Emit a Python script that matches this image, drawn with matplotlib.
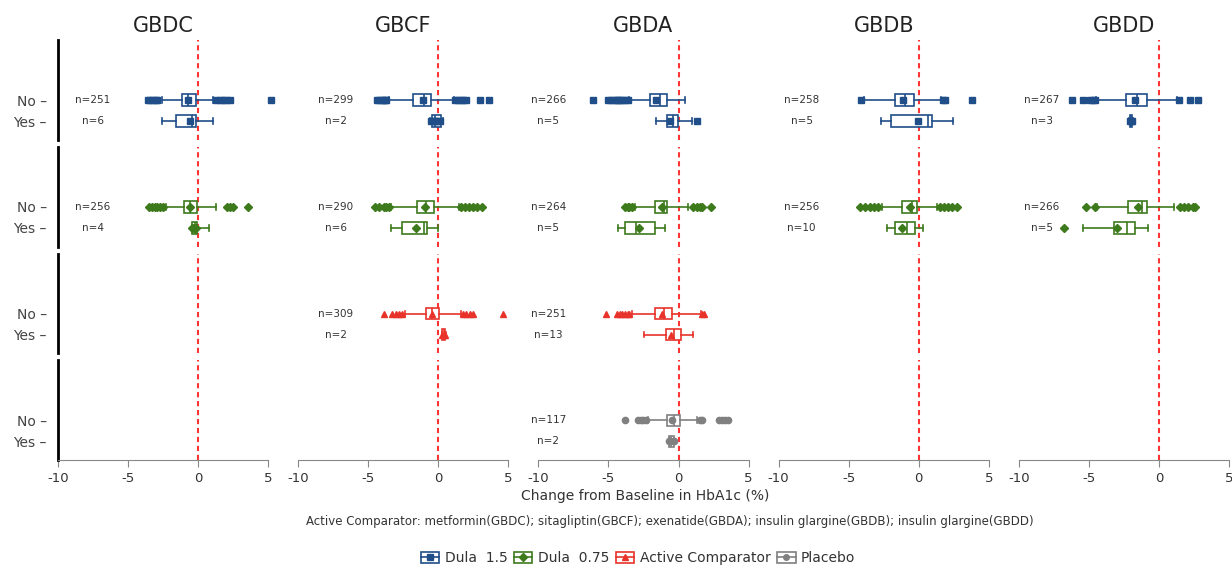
import matplotlib
matplotlib.use("Agg")
import matplotlib.pyplot as plt
from matplotlib.patches import Patch
from matplotlib.lines import Line2D
from matplotlib.legend_handler import HandlerTuple

studies = ['GBDC', 'GBCF', 'GBDA', 'GBDB', 'GBDD']
arms = ['Dula  1.5', 'Dula  0.75', 'Active Comparator', 'Placebo']
arm_colors = ['#1f4e89', '#3d7a1c', '#e8332a', '#808080']
arm_markers = ['s', 'D', '^', 'o']

# x position (data units) of the "n=" labels in each study column
n_label_x = [-7.5, -7.3, -9.3, -8.35, -8.35]

# (n, whislo, q1, median, q3, whishi, mean, fliers)
dula15_no = {
    'GBDC': (251, -2.6, -1.15, -0.75, -0.15, 1.1, -0.7, [-3.6, -3.4, -3.2, -3.0, -2.9, 1.3, 1.6, 1.8, 2.0, 2.3, 5.2]),
    'GBCF': (299, -3.5, -1.8, -1.0, -0.55, 1.1, -1.1, [-4.4, -4.2, -4.0, -3.9, -3.8, -3.7, 1.2, 1.4, 1.6, 1.8, 2.0, 3.0, 3.6]),
    'GBDA': (266, -3.5, -2.0, -1.3, -0.85, 0.45, -1.6, [-6.1, -5.0, -4.8, -4.6, -4.4, -4.3, -4.2, -4.0, -3.8, -3.6]),
    'GBDB': (258, -3.9, -1.7, -1.0, -0.35, 1.6, -1.1, [-4.1, 1.7, 1.9, 3.8]),
    'GBDD': (267, -4.5, -2.35, -1.55, -0.85, 1.3, -1.7, [-6.2, -5.4, -4.9, -4.7, -4.6, 1.4, 2.2, 2.8]),
}
dula15_yes = {
    'GBDC': (6, -2.6, -1.6, -0.45, -0.15, 1.05, -0.6, []),
    'GBCF': (2, -0.6, -0.45, -0.2, 0.2, 0.35, -0.2, [-0.5, -0.3, -0.1, 0.1]),
    'GBDA': (5, -1.6, -0.85, -0.4, -0.05, 0.95, -0.6, [1.3]),
    'GBDB': (5, -2.7, -2.0, 0.65, 0.95, 2.45, -0.05, []),
    'GBDD': (3, -2.15, -2.1, -2.0, -1.9, -1.85, -2.0, [-2.1, -1.95]),
}
dula075_no = {
    'GBDC': (256, -2.3, -1.0, -0.55, -0.1, 1.3, -0.55, [-3.5, -3.3, -3.1, -2.9, -2.7, -2.5, 2.1, 2.3, 2.5, 3.6]),
    'GBCF': (290, -3.4, -1.5, -0.9, -0.3, 1.5, -0.95, [-4.5, -4.2, -3.9, -3.7, -3.5, 1.6, 1.9, 2.2, 2.5, 2.8, 3.1]),
    'GBDA': (264, -3.1, -1.7, -1.0, -0.8, 0.7, -1.15, [-3.8, -3.6, -3.5, -3.3, 1.0, 1.3, 1.5, 1.7, 2.3]),
    'GBDB': (256, -2.6, -1.2, -0.5, -0.15, 1.3, -0.65, [-4.2, -3.8, -3.5, -3.2, -2.9, 1.5, 1.8, 2.1, 2.4, 2.7]),
    'GBDD': (266, -4.4, -2.2, -1.2, -0.85, 1.1, -1.5, [-5.2, -4.6, 1.5, 1.8, 2.1, 2.4, 2.6]),
}
dula075_yes = {
    'GBDC': (4, -0.45, -0.4, -0.25, -0.1, 0.8, -0.3, [-0.45, -0.3, -0.15]),
    'GBCF': (6, -3.4, -2.6, -1.05, -0.8, -0.05, -1.6, []),
    'GBDA': (5, -4.35, -3.85, -3.0, -1.7, -0.95, -2.8, []),
    'GBDB': (10, -2.3, -1.7, -0.85, -0.3, 0.3, -1.2, []),
    'GBDD': (5, -5.4, -3.2, -2.3, -1.7, -0.8, -3.0, [-6.8]),
}
active_no = {
    'GBCF': (309, -2.35, -0.85, -0.45, 0.05, 1.65, -0.45, [-3.9, -3.3, -3.0, -2.8, -2.6, 1.8, 2.0, 2.3, 2.5, 4.6]),
    'GBDA': (251, -3.3, -1.65, -1.0, -0.45, 1.6, -1.15, [-5.2, -4.4, -4.2, -4.0, -3.8, -3.6, -3.5, 1.7, 1.8]),
}
active_yes = {
    'GBCF': (2, 0.25, 0.3, 0.4, 0.5, 0.55, 0.4, [0.3, 0.5]),
    'GBDA': (13, -2.45, -0.9, -0.3, 0.2, 1.05, -0.55, []),
}
placebo_no = {
    'GBDA': (117, -2.2, -0.85, -0.35, 0.1, 1.35, -0.45, [-3.8, -2.9, -2.7, -2.5, -2.3, 1.5, 1.7, 2.9, 3.1, 3.3, 3.5]),
}
placebo_yes = {
    'GBDA': (2, -0.7, -0.65, -0.5, -0.35, -0.3, -0.5, [-0.65, -0.35]),
}

arm_data = [(dula15_no, dula15_yes), (dula075_no, dula075_yes),
            (active_no, active_yes), (placebo_no, placebo_yes)]

comparator_note = ('Active Comparator: metformin(GBDC); sitagliptin(GBCF); exenatide(GBDA); '
                   'insulin glargine(GBDB); insulin glargine(GBDD)')

fig = plt.figure(figsize=(12.32, 5.66), dpi=100)
gs = fig.add_gridspec(4, 5, left=0.047, right=0.9976, top=0.929, bottom=0.187,
                      wspace=0.143, hspace=0.07)

for r, (arm_no, arm_yes) in enumerate(arm_data):
    c = arm_colors[r]
    m = arm_markers[r]
    for k, study in enumerate(studies):
        ax = fig.add_subplot(gs[r, k])
        ax.set_xlim(-10, 5)
        ax.set_ylim(-0.9, 3.86)
        ax.axvline(0, color='#ff3535', ls='--', lw=1.5, dashes=(2.5, 1.8), zorder=0)

        stats, pos = [], []
        for p, d in ((1, arm_no), (0, arm_yes)):
            if study not in d:
                continue
            n, lo, q1, med, q3, hi, mean, fl = d[study]
            stats.append(dict(whislo=lo, q1=q1, med=med, q3=q3, whishi=hi, mean=mean, fliers=fl))
            pos.append(p)
            ax.text(n_label_x[k], p, f'n={n}', ha='center', va='center', fontsize=7.5, color='#333333')
        if stats:
            res = ax.bxp(stats, positions=pos, orientation='horizontal', widths=0.55,
                         showmeans=True, patch_artist=True,
                         boxprops=dict(facecolor='white', edgecolor=c, lw=1.2),
                         whiskerprops=dict(color=c, lw=1.2),
                         capprops=dict(color=c, lw=1.2),
                         medianprops=dict(color=c, lw=1.2),
                         meanprops=dict(marker=m, mfc=c, mec=c, ms=4.5),
                         flierprops=dict(marker=m, mfc=c, mec=c, ms=4.5, ls='none'))
            for fl in res['fliers']:
                fl.set_clip_on(False)

        for s in ('top', 'right'):
            ax.spines[s].set_visible(False)
        if k == 0:
            ax.spines['left'].set_color('black')
            ax.spines['left'].set_linewidth(2)
            ax.set_yticks([1, 0])
            ax.set_yticklabels(['No \u2013', 'Yes \u2013'], fontsize=10, color='#444444')
            ax.tick_params(axis='y', length=0, pad=8)
        else:
            ax.spines['left'].set_visible(False)
            ax.set_yticks([])
        if r == 3:
            ax.spines['bottom'].set_color('#888888')
            ax.set_xticks([-10, -5, 0, 5])
            ax.set_xticklabels(['-10', '-5', '0', '5'], fontsize=9.5, color='#333333')
            ax.tick_params(axis='x', colors='#888888', labelcolor='#333333', length=5)
        else:
            ax.spines['bottom'].set_visible(False)
            ax.set_xticks([])
        if r == 0:
            ax.set_title(study, fontsize=15, color='#222222', pad=6)

fig.text(0.524, 0.124, 'Change from Baseline in HbA1c (%)', ha='center', va='center',
         fontsize=10, color='#333333')
fig.text(0.544, 0.079, comparator_note, ha='center', va='center', fontsize=8.5, color='#333333')

handles = []
for c, m in zip(arm_colors, arm_markers):
    handles.append((Patch(facecolor='white', edgecolor=c, lw=1.2),
                    Line2D([], [], color=c, marker=m, ms=4, mfc=c, mec=c, lw=1.2)))
fig.legend(handles, arms, handler_map={tuple: HandlerTuple(ndivide=1)},
           loc='center', bbox_to_anchor=(0.518, 0.014), ncol=4, frameon=False,
           fontsize=10, handlelength=1.3, handleheight=0.9, handletextpad=0.4,
           columnspacing=0.5, labelcolor='#333333')

fig.savefig('out.png', dpi=100)
